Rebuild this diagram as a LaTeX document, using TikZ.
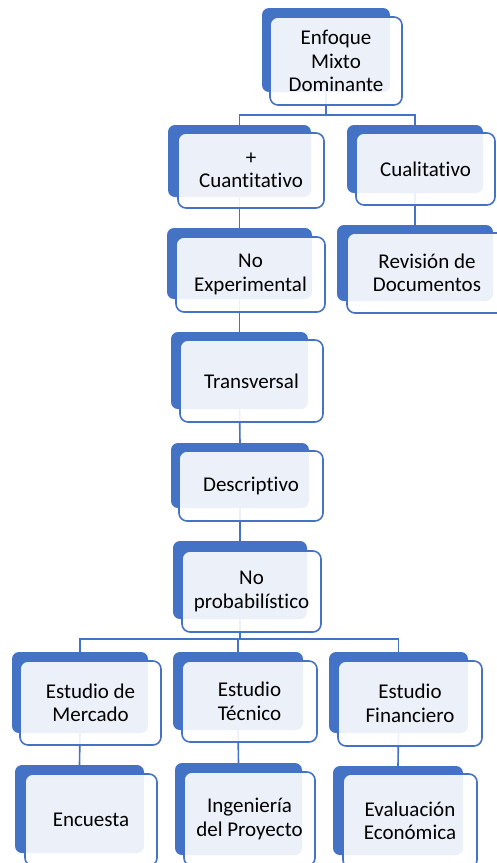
\documentclass[tikz,border=0pt]{standalone}
\usepackage{fontspec}
\setmainfont{Carlito}[Ligatures={NoCommon}]
\definecolor{sablue}{HTML}{4472C4}
\tikzset{
  backbox/.style={fill=sablue, rounded corners=7pt, inner sep=0pt, outer sep=0pt},
  frontbox/.style={draw=sablue, line width=1.6pt, fill=white, fill opacity=0.9, text opacity=1,
    rounded corners=8pt, inner sep=0pt, outer sep=0pt, align=center,
    font=\fontsize{21}{23.5}\selectfont, text=black},
  conn/.style={draw=sablue, line width=1.6pt}
}
% back box: name, x1,y1,x2,y2
\newcommand\backat[5]{\node[backbox, minimum width={#4-#2}, minimum height={#5-#3}] (#1) at ({(#2+#4)/2},{(#3+#5)/2}) {};}
\newcommand\frontat[6]{\node[frontbox, minimum width={#4-#2}, minimum height={#5-#3}] (#1) at ({(#2+#4)/2},{(#3+#5)/2}) {#6};}
\begin{document}
\begin{tikzpicture}[x=1pt,y=-1pt]
\useasboundingbox (0,0) rectangle (497,863);
\clip (0,0) rectangle (497,863);
% back boxes
\backat{b1}{262}{8}{390}{92}
\backat{b2}{168}{125}{311}{197}
\backat{b3}{347}{125}{483}{193}
\backat{b4}{167}{228}{312}{299}
\backat{b5}{337}{225}{493}{301}
\backat{b6}{171}{332}{308}{409}
\backat{b7}{171}{443}{309}{508}
\backat{b8}{173}{541}{307}{619}
\backat{b9}{12}{652}{148}{733}
\backat{b10}{173}{652}{303}{730}
\backat{b11}{329}{652}{468}{733}
\backat{b12}{15}{765}{144}{853}
\backat{b13}{175}{763}{302}{855}
\backat{b14}{333}{766}{463}{855}
% connectors
\coordinate (j1) at (326,115);
\draw[conn] (b1.south) -- (j1) -| (b2.north);
\draw[conn] (j1) -| (b3.north);
\draw[conn] (b2.south) -- (b4.north);
\draw[conn] (b3.south) -- (b5.north);
\draw[conn] (b4.south) -- (b6.north);
\draw[conn] (b6.south) -- (b7.north);
\draw[conn] (b7.south) -- (b8.north);
\coordinate (j2) at (240,639);
\draw[conn] (b8.south) -- (j2) -| (b9.north);
\draw[conn] (j2) -| (b10.north);
\draw[conn] (j2) -| (b11.north);
\draw[conn] (b9.south) -- (b12.north);
\draw[conn] (b10.south) -- (b13.north);
\draw[conn] (b11.south) -- (b14.north);
% front boxes
\frontat{f1}{270}{17}{402}{105}{Enfoque\\Mixto\\Dominante}
\frontat{f2}{178}{133}{324}{208}{+\\Cuantitativo}
\frontat{f3}{356}{133}{495}{205}{Cualitativo}
\frontat{f4}{176}{237}{325}{312}{No\\Experimental}
\frontat{f5}{347}{233}{507}{313}{Revisión de\\Documentos}
\frontat{f6}{180}{340}{323}{422}{Transversal}
\frontat{f7}{179}{451}{323}{521}{Descriptivo}
\frontat{f8}{182}{551}{321}{632}{No\\probabilístico}
\frontat{f9}{20}{661}{161}{745}{Estudio de\\Mercado}
\frontat{f10}{182}{661}{317}{742}{Estudio\\Técnico}
\frontat{f11}{338}{661}{482}{746}{Estudio\\Financiero}
\frontat{f12}{25}{774}{157}{866}{Encuesta}
\frontat{f13}{184}{772}{315}{866}{Ingeniería\\del Proyecto}
\frontat{f14}{343}{774}{477}{868}{Evaluación\\Económica}
\end{tikzpicture}
\end{document}
